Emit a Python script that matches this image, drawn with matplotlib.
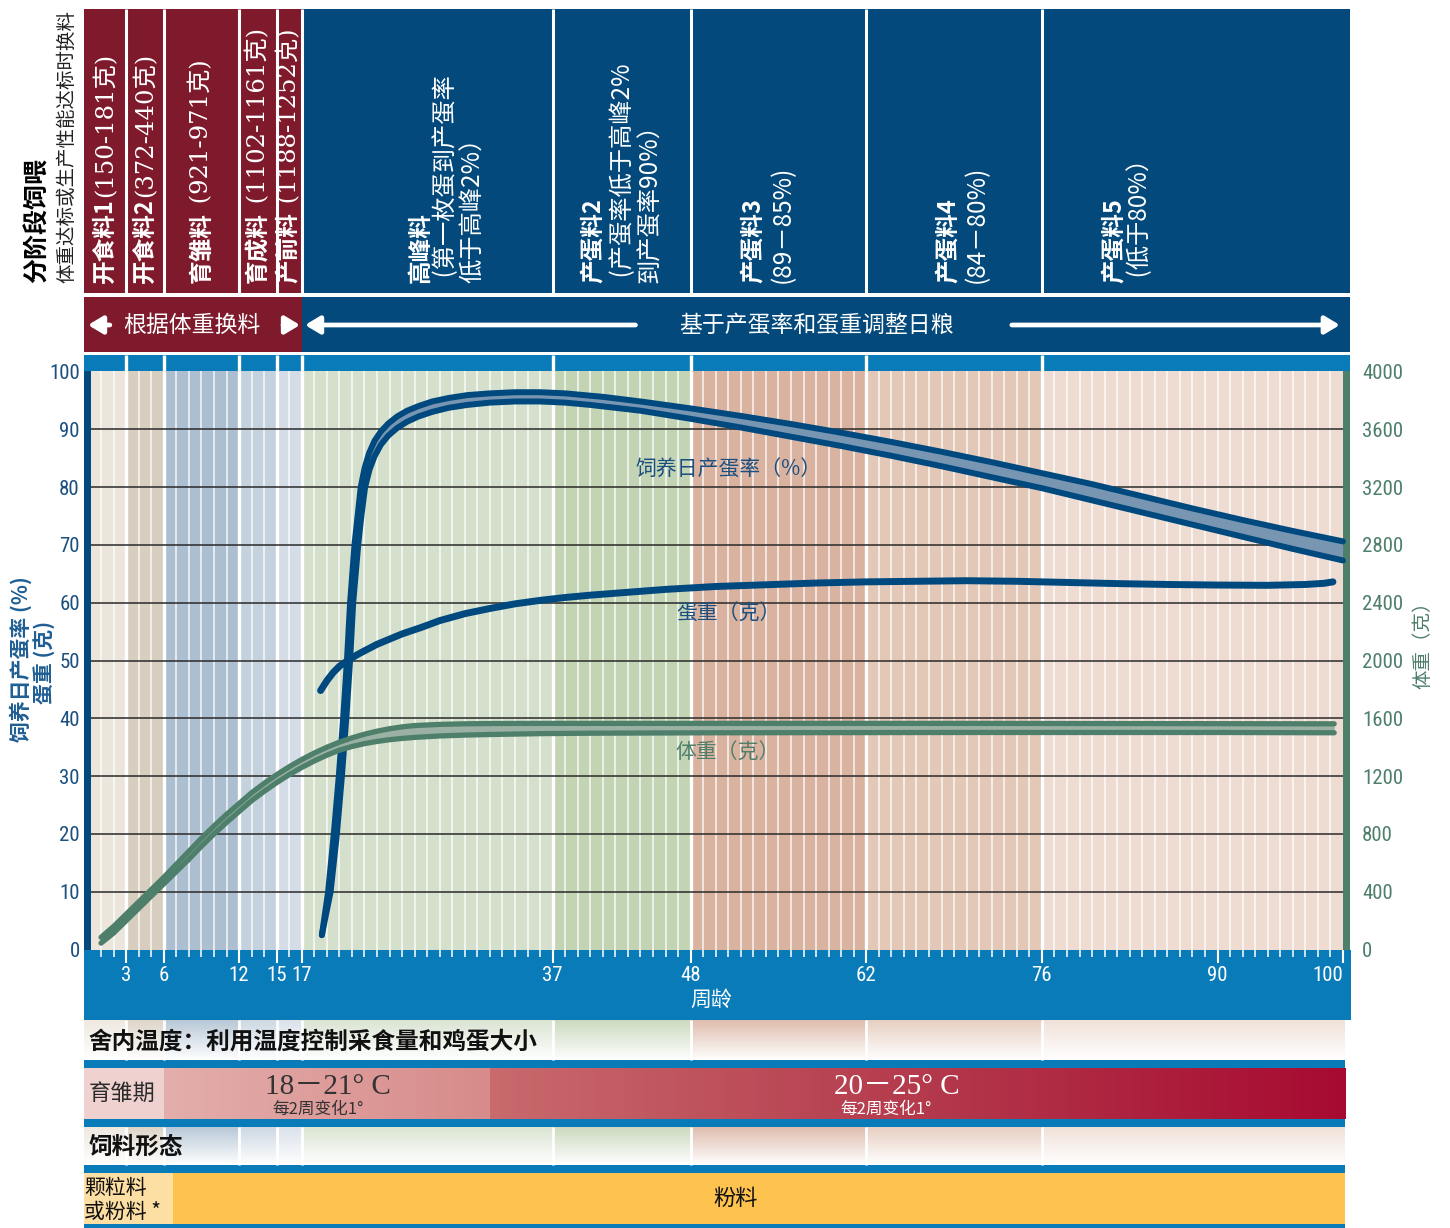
import numpy as np
import matplotlib.pyplot as plt
from matplotlib.patches import Rectangle
from matplotlib.colors import LinearSegmentedColormap

plt.rcParams['font.family'] = ['Noto Sans CJK SC', 'DejaVu Sans']

# feed phases (weeks) and background colours of the chart
phase_weeks = [0, 3, 6, 12, 15, 17, 37, 48, 62, 76, 100]
phase_colors = ['#ECE5DB', '#D8CEBF', '#ACBFD1', '#C4D2DE', '#D4DDE7',
                '#D4E0CB', '#C2D4B4', '#DAB2A0', '#E3C7B7', '#EEDCD2']
x_labels = [3, 6, 12, 15, 17, 37, 48, 62, 76, 90, 100]

# hen-day production (%) - upper and lower limit
prod_hi_wk = [18.6, 19.1, 19.55, 19.95, 20.3, 20.6, 20.85, 21.2, 21.45, 21.7, 22.0, 22.35, 22.8,
              23.3, 23.9, 24.6, 25.4, 26.3, 27.4, 28.7, 30.2, 32, 34, 36, 38, 41, 44, 48, 52,
              56, 60, 64, 68, 72, 76, 80, 84, 88, 92, 96, 100]
prod_hi = [2.5, 10, 20, 30, 40, 50, 60, 70, 75, 80, 83.2, 85.8, 88.0,
           89.6, 91.0, 92.2, 93.2, 94.0, 94.8, 95.4, 95.9, 96.2, 96.4, 96.4, 96.2, 95.6, 94.8, 93.6, 92.3,
           90.9, 89.4, 87.8, 86.1, 84.3, 82.4, 80.5, 78.4, 76.3, 74.3, 72.4, 70.6]
prod_lo_wk = [18.6, 19.3, 19.8, 20.2, 20.55, 20.85, 21.1, 21.5, 21.75, 22.05, 22.4, 22.8, 23.3,
              23.9, 24.6, 25.4, 26.3, 27.4, 28.7, 30.2, 32, 34, 36, 38, 40, 44, 48, 52,
              56, 60, 64, 68, 72, 76, 80, 84, 88, 92, 96, 100]
prod_lo = [2.5, 10, 20, 30, 40, 50, 60, 70, 75, 80, 83.0, 85.3, 87.3,
           88.9, 90.2, 91.3, 92.2, 93.0, 93.7, 94.2, 94.6, 94.8, 94.8, 94.6, 94.2, 93.2, 91.8, 90.3,
           88.7, 87.1, 85.4, 83.6, 81.7, 79.8, 77.7, 75.6, 73.5, 71.4, 69.3, 67.3]

# egg weight (g)
egg_wk = [18.5, 19.0, 19.5, 20.0, 20.8, 21.5, 22.2, 23, 24, 25, 26.5, 28, 30, 32, 34, 36, 38,
          40, 43, 46, 50, 54, 58, 62, 66, 70, 74, 78, 82, 86, 90, 94, 97, 98.5, 99.2]
egg_g = [44.8, 46.5, 47.9, 49.0, 50.2, 51.1, 51.9, 52.8, 53.7, 54.6, 55.7, 56.9, 58.1, 59.0, 59.8,
         60.4, 60.9, 61.3, 61.8, 62.3, 62.8, 63.1, 63.4, 63.6, 63.7, 63.8, 63.7, 63.5, 63.3, 63.15,
         63.05, 63.0, 63.15, 63.35, 63.6]

# body weight (g) - upper and lower limit
bw_wk = [1, 2, 3, 4, 5, 6, 7, 8, 9, 10, 11, 12, 13, 14, 15, 16, 17, 18, 19, 20,
         21, 22, 23, 24, 25, 26, 28, 30, 32, 36, 40, 50, 70, 90, 99.3]
bw_hi = [85, 160, 245, 330, 415, 500, 590, 680, 770, 855, 935, 1010, 1085, 1150, 1210, 1265, 1315, 1360,
         1400, 1435, 1465, 1490, 1511, 1528, 1541, 1550, 1558, 1562, 1564, 1565, 1565, 1565, 1565, 1563, 1562]
bw_lo = [45, 115, 200, 285, 370, 455, 540, 625, 715, 800, 880, 955, 1030, 1095, 1155, 1210, 1260, 1305,
         1345, 1380, 1405, 1425, 1440, 1452, 1461, 1468, 1478, 1484, 1488, 1494, 1497, 1500, 1502, 1502, 1500]

# header texts
rear_feeds = [(1.3, '开食料1', '(150-181克)'), (4.5, '开食料2', '(372-440克)'),
              (9.0, '育雏料', ' (921-971克)'), (13.5, '育成料', ' (1102-1161克)'),
              (16.0, '产前料', ' (1188-1252克)')]
lay_feeds = [(26.3, '高峰料', True), (28.4, ' (第一枚蛋到产蛋率', False), (30.5, '低于高峰2%）', False),
             (40.1, '产蛋料2', True), (42.5, ' (产蛋率低于高峰2%', False), (44.6, '到产蛋率90%）', False),
             (52.9, '产蛋料3', True), (55.2, '(89－85%)', False),
             (68.4, '产蛋料4', True), (70.7, '(84－80%)', False),
             (81.7, '产蛋料5', True), (83.7, ' (低于80%）', False)]

# temperature and feed form stages
temp_breaks = [6, 32]
form_break = 6.7

maroon = '#7E1A2B'
navy = '#03497C'
axblue = '#0A7BB9'
line_blue = '#00497F'
green = '#4E7F6B'
tickfont = ['Roboto Condensed', 'Liberation Sans Narrow', 'Roboto']

W, H = 1450, 1228
X0, X1 = -0.36, 100.64
XR = 100.2

fig = plt.figure(figsize=(W / 100, H / 100), dpi=100)

bg = fig.add_axes([84 / W, 0, 1267 / W, 1])
bg.axis('off')


def rect(x0, x1, y0, y1, color, z=1):
    bg.add_patch(Rectangle((x0, y0), x1 - x0, y1 - y0, facecolor=color,
                           edgecolor='none', clip_on=False, zorder=z))


def arrow(x_from, x_to, y):
    bg.annotate('', xy=(x_to, y), xytext=(x_from, y), annotation_clip=False,
                arrowprops=dict(arrowstyle='-|>,head_length=0.55,head_width=0.33',
                                color='white', lw=3.4, shrinkA=0, shrinkB=0,
                                mutation_scale=16))


# header
rect(X0, 17, 9, 293, maroon)
rect(17, 100.56, 9, 293, navy)
bg.vlines(phase_weeks[1:-1], 9, 293, colors='white', lw=2.2, zorder=2)
rect(X0, 17, 297, 352, maroon)
rect(17, 100.56, 297, 352, navy)
rect(X0, 100.56, 355, 371, axblue)
bg.vlines(phase_weeks[1:-1], 355, 371, colors='white', lw=2.4, zorder=2)

for x, bold, light in rear_feeds:
    t = bg.text(x, 283, bold, rotation=90, ha='center', va='bottom', color='white',
                fontsize=17, fontweight='bold', zorder=5)
    bg.annotate(light, xy=(0.5, 1), xycoords=t, xytext=(0, 1), textcoords='offset points',
                rotation=90, ha='center', va='bottom', color='white', fontsize=17.5,
                family=['DejaVu Serif', 'Noto Sans CJK SC'], zorder=5)
for x, s, is_bold in lay_feeds:
    # anchor on the baseline so that brackets do not shift the column
    bg.text(x + 0.7, 283, s, rotation=90, rotation_mode='anchor', ha='left', va='baseline',
            color='white', fontsize=17 if is_bold else 17.5,
            fontweight='bold' if is_bold else 'normal', zorder=5)

arrow(1.7, -0.04, 325)
arrow(15.5, 16.86, 325)
arrow(43.6, 17.26, 325)
arrow(73.6, 99.75, 325)
bg.text(8.2, 325, '根据体重换料', ha='center', va='center', color='white', fontsize=16.5, zorder=5)
bg.text(58.0, 325, '基于产蛋率和蛋重调整日粮', ha='center', va='center', color='white',
        fontsize=16.5, zorder=5)

fig.text(38 / W, 1 - 283 / H, '分阶段饲喂', rotation=90, ha='center', va='bottom',
         fontsize=18, fontweight='bold', color='black')
fig.text(67 / W, 1 - 283 / H, '体重达标或生产性能达标时换料', rotation=90, ha='center',
         va='bottom', fontsize=14, color='#222222')

# x axis band
rect(X0, X1, 950, 1020, axblue)
bg.text(49.6, 1000, '周龄', ha='center', va='center', color='white', fontsize=15, zorder=5)


def faded_band(y0, y1):
    n = len(phase_colors)
    for i in range(n):
        a = X0 if i == 0 else phase_weeks[i]
        b = XR if i == n - 1 else phase_weeks[i + 1]
        rect(a, b, y0, y1, phase_colors[i])
    bg.vlines(phase_weeks[1:-1], y0, y1, colors='white', lw=2, zorder=2)
    img = np.ones((64, 1, 4))
    img[:, 0, 3] = np.linspace(0.15, 1, 64)
    bg.imshow(img, extent=[X0, XR, y1, y0], aspect='auto', interpolation='bilinear', zorder=3)


faded_band(1020, 1060)
rect(X0, XR, 1060, 1068, axblue)
rect(X0, XR, 1119, 1127, axblue)
faded_band(1127, 1165)
rect(X0, XR, 1165, 1173, axblue)
rect(X0, XR, 1224, 1228, axblue)

# temperature bar
rect(X0, temp_breaks[0], 1068, 1119, '#EFD2CF')
grad = np.linspace(0, 1, 256)[None, :]
bg.imshow(grad, cmap=LinearSegmentedColormap.from_list('t1', ['#E3AEAB', '#D78B8A']),
          extent=[temp_breaks[0], temp_breaks[1], 1119, 1068], aspect='auto', zorder=2)
bg.imshow(grad, cmap=LinearSegmentedColormap.from_list('t2', ['#C96A6D', '#B43A4C', '#A70A31']),
          extent=[temp_breaks[1], XR, 1119, 1068], aspect='auto', zorder=2)

# feed form bar
rect(X0, form_break, 1173, 1224, '#FDDEA3')
rect(form_break, XR, 1173, 1224, '#FEC24F')

bg.text(0, 1042, '舍内温度：利用温度控制采食量和鸡蛋大小', ha='left', va='center',
        fontsize=17, fontweight='bold', color='#111111', zorder=5)
bg.text(0, 1147, '饲料形态', ha='left', va='center', fontsize=17, fontweight='bold',
        color='#111111', zorder=5)
bg.text(0, 1093, '育雏期', ha='left', va='center', fontsize=16, color='#2B2B2B', zorder=5)
serif = ['Liberation Serif', 'Noto Sans CJK SC']
bg.text(19.1, 1087, '18－21° C', ha='center', va='center', fontsize=21, color='#333333',
        family=serif, zorder=5)
bg.text(18.3, 1109, '每2周变化1°', ha='center', va='center', fontsize=12, color='#333333', zorder=5)
bg.text(64.4, 1087, '20－25° C', ha='center', va='center', fontsize=21, color='white',
        family=serif, zorder=5)
bg.text(63.6, 1109, '每2周变化1°', ha='center', va='center', fontsize=12, color='white', zorder=5)
bg.text(X0, 1188, '颗粒料', ha='left', va='center', fontsize=15, color='#111111', zorder=5)
bg.text(X0, 1212, '或粉料 *', ha='left', va='center', fontsize=15, color='#111111', zorder=5)
bg.text(51.6, 1198, '粉料', ha='center', va='center', fontsize=16, color='#111111', zorder=5)

bg.set_xlim(X0, X1)
bg.set_ylim(H, 0)

# main chart
ax = fig.add_axes([84 / W, (H - 949.6) / H, 1267 / W, (949.6 - 371.4) / H])
ax.patch.set_visible(False)
for i in range(len(phase_colors)):
    ax.axvspan(phase_weeks[i], phase_weeks[i + 1], color=phase_colors[i], lw=0, zorder=0)
ax.vlines(range(1, 100), 0, 100, colors='white', lw=1.2, alpha=0.8, zorder=0.5)
ax.vlines(phase_weeks[1:-1], 0, 100, colors='white', lw=2.4, zorder=0.6)
ax.hlines(range(10, 100, 10), 0, 100, colors='#2A2A2A', lw=1.1, zorder=1)
ax.axvspan(X0, 0.2, color='#02497D', lw=0, zorder=3)
ax.axvspan(100, 100.56, color=green, lw=0, zorder=3)

ax.fill(np.r_[prod_hi_wk, prod_lo_wk[::-1]], np.r_[prod_hi, prod_lo[::-1]],
        color='#7896B2', lw=0, zorder=3)
for wk, v in [(prod_hi_wk, prod_hi), (prod_lo_wk, prod_lo)]:
    ax.plot(wk, v, color=line_blue, lw=4.3, solid_capstyle='round',
            solid_joinstyle='round', zorder=4)
ax.plot(egg_wk, egg_g, color=line_blue, lw=5, solid_capstyle='round',
        solid_joinstyle='round', zorder=4)

ax.text(51, 83, '饲养日产蛋率（%）', ha='center', va='center', color='#1B4F7F', fontsize=15, zorder=6)
ax.text(51, 58, '蛋重（克）', ha='center', va='center', color='#1B4F7F', fontsize=15, zorder=6)
ax.text(50.9, 34, '体重（克）', ha='center', va='center', color=green, fontsize=15, zorder=6)

ax.set_xlim(X0, X1)
ax.set_ylim(0, 100)
ax.set_xticks(x_labels)
ax.set_xticks(range(1, 101), minor=True)
ax.set_yticks(range(0, 101, 10))
ax.tick_params(axis='x', which='major', direction='out', length=9.5, width=1.5, color='white',
               labelcolor='white', labelsize=15, pad=2)
ax.tick_params(axis='x', which='minor', direction='out', length=5, width=1.1, color='white')
ax.tick_params(axis='y', length=0, pad=3, labelcolor='#1B4F7F', labelsize=15)
for lab in ax.get_xticklabels() + ax.get_yticklabels():
    lab.set_family(tickfont)
ax.get_xticklabels()[-1].set_ha('right')
for s in ax.spines.values():
    s.set_visible(False)

ax2 = ax.twinx()
ax2.fill_between(bw_wk, bw_lo, bw_hi, color='#9AB1A4', lw=0, zorder=2)
ax2.plot(bw_wk, bw_hi, color=green, lw=3.8, solid_capstyle='round', zorder=3)
ax2.plot(bw_wk, bw_lo, color=green, lw=3.8, solid_capstyle='round', zorder=3)
ax2.set_ylim(0, 4000)
ax2.set_yticks(range(0, 4001, 400))
ax2.tick_params(axis='y', length=0, pad=8, labelcolor=green, labelsize=15)
for lab in ax2.get_yticklabels():
    lab.set_family(tickfont)
for s in ax2.spines.values():
    s.set_visible(False)

fig.text(21 / W, 1 - 659 / H, '饲养日产蛋率 (%)', rotation=90, ha='center', va='center',
         fontsize=15, fontweight='bold', color='#1F5E93')
fig.text(44 / W, 1 - 662 / H, '蛋重 (克)', rotation=90, ha='center', va='center',
         fontsize=15, fontweight='bold', color='#1F5E93')
fig.text(1423 / W, 1 - 640 / H, '体重（克）', rotation=90, ha='center', va='center',
         fontsize=14, color=green)

fig.savefig('out.png', dpi=100)
